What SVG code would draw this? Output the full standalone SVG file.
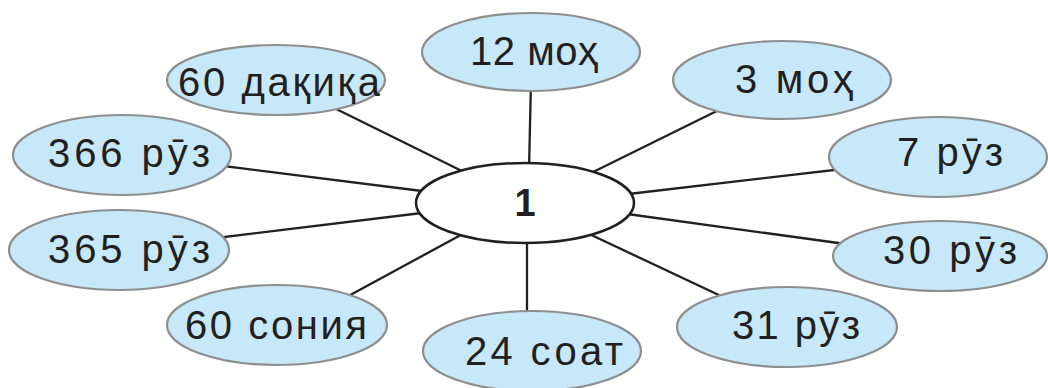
<svg xmlns="http://www.w3.org/2000/svg" width="1048" height="388" viewBox="0 0 1048 388">
<style>
.n{fill:#C7E8F8;stroke:#8E8E8E;stroke-width:2.2}
.c{fill:#FFFFFF;stroke:#231F20;stroke-width:2.5}
.t{font-family:"Liberation Sans",Arial,sans-serif;font-size:40px;fill:#231F20;text-anchor:middle}
.b{font-weight:bold;font-size:38px}
.l{stroke:#231F20;stroke-width:2.3;fill:none}
</style>
<rect width="1048" height="388" fill="#FFFFFF"/>
<g id="connectors">
<line class="l" x1="531" y1="80" x2="529" y2="170"/>
<line class="l" x1="320" y1="101" x2="470" y2="175"/>
<line class="l" x1="735" y1="102" x2="585" y2="176"/>
<line class="l" x1="860" y1="167" x2="620" y2="195"/>
<line class="l" x1="860" y1="246" x2="620" y2="213"/>
<line class="l" x1="740" y1="305" x2="585" y2="232"/>
<line class="l" x1="527" y1="236" x2="527" y2="325"/>
<line class="l" x1="330" y1="306" x2="470" y2="230"/>
<line class="l" x1="200" y1="163" x2="430" y2="192"/>
<line class="l" x1="200" y1="240" x2="430" y2="212"/>
</g>
<g id="center">
<ellipse class="c" cx="525" cy="203" rx="109" ry="40"/>
<text class="t b" x="525" y="216">1</text>
</g>
<g id="n12month">
<ellipse class="n" cx="531" cy="52" rx="109" ry="39"/>
<text class="t" x="534" y="65" textLength="128" lengthAdjust="spacing">12 моҳ</text>
</g>
<g id="n60min">
<ellipse class="n" cx="276" cy="80" rx="109" ry="35"/>
<text class="t" x="279" y="96" textLength="202" lengthAdjust="spacing">60 дақиқа</text>
</g>
<g id="n3month">
<ellipse class="n" cx="782" cy="80" rx="109" ry="39"/>
<text class="t" x="794" y="93" textLength="118" lengthAdjust="spacing">3 моҳ</text>
</g>
<g id="n7day">
<ellipse class="n" cx="938" cy="157" rx="109" ry="40"/>
<text class="t" x="950" y="166" textLength="106" lengthAdjust="spacing">7 рӯз</text>
</g>
<g id="n30day">
<ellipse class="n" cx="940" cy="256" rx="107" ry="35"/>
<text class="t" x="950" y="264" textLength="134" lengthAdjust="spacing">30 рӯз</text>
</g>
<g id="n31day">
<ellipse class="n" cx="787" cy="327" rx="110" ry="40"/>
<text class="t" x="796" y="339" textLength="128" lengthAdjust="spacing">31 рӯз</text>
</g>
<g id="n24hour">
<ellipse class="n" cx="532" cy="351" rx="109" ry="40"/>
<text class="t" x="544" y="365" textLength="158" lengthAdjust="spacing">24 соат</text>
</g>
<g id="n60sec">
<ellipse class="n" cx="277" cy="325" rx="110" ry="40"/>
<text class="t" x="276" y="339" textLength="182" lengthAdjust="spacing">60 сония</text>
</g>
<g id="n366day">
<ellipse class="n" cx="122" cy="155" rx="109" ry="40"/>
<text class="t" x="129" y="167" textLength="162" lengthAdjust="spacing">366 рӯз</text>
</g>
<g id="n365day">
<ellipse class="n" cx="119" cy="250" rx="110" ry="40"/>
<text class="t" x="129" y="263" textLength="162" lengthAdjust="spacing">365 рӯз</text>
</g>
</svg>
